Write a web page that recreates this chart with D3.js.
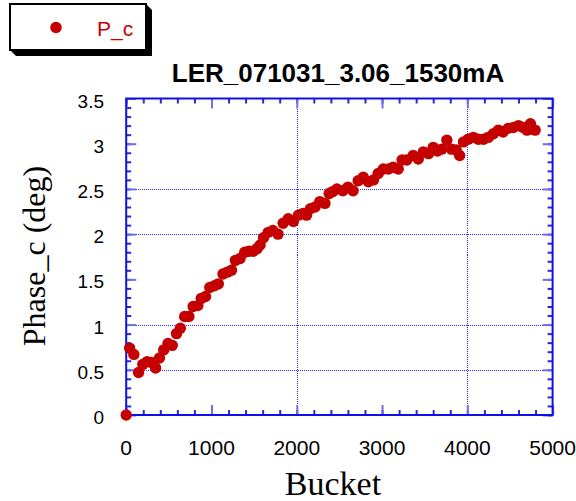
<!DOCTYPE html>
<html>
<head>
<meta charset="utf-8">
<script src="https://cdn.jsdelivr.net/npm/d3@7"></script>
<style>
  html, body { margin: 0; padding: 0; background: #fff; }
  svg { display: block; }
</style>
</head>
<body>
<svg id="chart" width="576" height="501"></svg>
<script>
// Phase_c measurement along the bunch train
const buckets = [0, 40, 90, 145, 195, 245, 295, 345, 390, 440, 490, 540, 590, 635, 685, 735, 785, 840, 880, 930,
  980, 1035, 1080, 1135, 1185, 1235, 1280, 1335, 1390, 1440, 1490, 1535, 1570, 1610, 1665, 1720, 1780, 1840, 1900, 1960,
  2020, 2075, 2115, 2160, 2215, 2270, 2330, 2380, 2420, 2470, 2540, 2600, 2660, 2720, 2780, 2840, 2900, 2955, 3015, 3075,
  3130, 3190, 3235, 3290, 3365, 3425, 3485, 3545, 3600, 3650, 3700, 3760, 3815, 3870, 3910, 3955, 4010, 4070, 4130, 4190,
  4245, 4305, 4365, 4420, 4480, 4540, 4600, 4655, 4700, 4740, 4795];
const phaseC = [0, 0.74, 0.67, 0.47, 0.56, 0.59, 0.58, 0.52, 0.63, 0.72, 0.79, 0.77, 0.90, 0.96, 1.09, 1.09, 1.20, 1.21, 1.29, 1.31,
  1.41, 1.43, 1.45, 1.56, 1.58, 1.60, 1.71, 1.73, 1.80, 1.81, 1.81, 1.84, 1.88, 1.96, 2.02, 2.04, 2.00, 2.12, 2.17, 2.14,
  2.21, 2.23, 2.21, 2.28, 2.30, 2.36, 2.34, 2.45, 2.47, 2.50, 2.48, 2.52, 2.48, 2.59, 2.63, 2.58, 2.60, 2.67, 2.72, 2.72,
  2.74, 2.72, 2.82, 2.82, 2.87, 2.83, 2.91, 2.89, 2.96, 2.92, 2.94, 3.04, 2.94, 2.93, 2.87, 3.02, 3.05, 3.07, 3.05, 3.05,
  3.07, 3.11, 3.15, 3.13, 3.17, 3.18, 3.20, 3.18, 3.15, 3.22, 3.15];

const xTickValues = [0, 1000, 2000, 3000, 4000, 5000];
const xTickLabels = ["0", "1000", "2000", "3000", "4000", "5000"];
const yTickValues = [0, 0.5, 1, 1.5, 2, 2.5, 3, 3.5];
const yTickLabels = ["0", "0.5", "1", "1.5", "2", "2.5", "3", "3.5"];
const xMinorValues = d3.range(0, 5001, 200);
const yMinorValues = d3.range(0, 36, 1).map(d => d / 10);
const xGridValues = [2000, 4000];
const yGridValues = [0.5, 1, 2, 2.5];

const seriesName = "P_c";
const chartTitle = "LER_071031_3.06_1530mA";
const xTitle = "Bucket";
const yTitle = "Phase_c (deg)";

const svg = d3.select("#chart");
const plotLeft = 126.2, plotRight = 552.6, plotTop = 98.5, plotBottom = 415;

const x = d3.scaleLinear().domain([0, 5000]).range([plotLeft, plotRight]);
const y = d3.scaleLinear().domain([0, 3.5]).range([plotBottom, plotTop]);
const snap = v => Math.round(v) + 0.5;

const red = "#c40000";
const frameBlue = "#1010e6";
const majorTickBlue = "#7070ec";
const minorTickBlue = "#2828d8";
const gridBlue = "#2a2af2";

// grid lines (dotted)
const grid = svg.append("g").attr("shape-rendering", "crispEdges");
grid.selectAll("line.gx").data(xGridValues).join("line")
  .attr("x1", d => snap(x(d))).attr("x2", d => snap(x(d)))
  .attr("y1", plotTop).attr("y2", plotBottom)
  .attr("stroke", gridBlue).attr("stroke-width", 1).attr("stroke-dasharray", "1,1");
grid.selectAll("line.gy").data(yGridValues).join("line")
  .attr("y1", d => snap(y(d))).attr("y2", d => snap(y(d)))
  .attr("x1", plotLeft).attr("x2", plotRight)
  .attr("stroke", gridBlue).attr("stroke-width", 1).attr("stroke-dasharray", "1,1");

// inward ticks on all four sides
function tickAxis(axisFn, scale, values, size, color, tx, ty) {
  const g = svg.append("g").attr("transform", `translate(${tx},${ty})`)
    .call(axisFn(scale).tickValues(values).tickSize(-size).tickFormat(""));
  g.select(".domain").remove();
  g.selectAll(".tick line").attr("stroke", color).attr("stroke-width", 2);
  return g;
}
tickAxis(d3.axisBottom, x, xMinorValues, 5, minorTickBlue, 0, plotBottom);
tickAxis(d3.axisTop, x, xMinorValues, 5, minorTickBlue, 0, plotTop);
tickAxis(d3.axisLeft, y, yMinorValues, 5, minorTickBlue, plotLeft, 0);
tickAxis(d3.axisRight, y, yMinorValues, 5, minorTickBlue, plotRight, 0);
tickAxis(d3.axisBottom, x, xTickValues, 10, majorTickBlue, 0, plotBottom);
tickAxis(d3.axisTop, x, xTickValues, 10, majorTickBlue, 0, plotTop);
tickAxis(d3.axisLeft, y, yTickValues, 10, majorTickBlue, plotLeft, 0);
tickAxis(d3.axisRight, y, yTickValues, 10, majorTickBlue, plotRight, 0);

// frame
svg.append("rect")
  .attr("x", plotLeft).attr("y", plotTop)
  .attr("width", plotRight - plotLeft).attr("height", plotBottom - plotTop)
  .attr("fill", "none").attr("stroke", frameBlue).attr("stroke-width", 2);

// tick labels
svg.append("g").selectAll("text").data(xTickValues).join("text")
  .attr("x", d => x(d)).attr("y", 455)
  .attr("text-anchor", "middle")
  .attr("font-family", "Liberation Sans, Arial, sans-serif")
  .attr("font-size", 21)
  .attr("fill", "#000")
  .text((d, i) => xTickLabels[i]);
svg.append("g").selectAll("text").data(yTickValues).join("text")
  .attr("x", 104).attr("y", d => y(d) + 9)
  .attr("text-anchor", "end")
  .attr("font-family", "Liberation Sans, Arial, sans-serif")
  .attr("font-size", 19)
  .attr("fill", "#000")
  .text((d, i) => yTickLabels[i]);

// axis titles
svg.append("text")
  .attr("x", 333).attr("y", 495)
  .attr("text-anchor", "middle")
  .attr("font-family", "Liberation Serif, Times New Roman, serif")
  .attr("font-size", 34)
  .text(xTitle);
svg.append("text")
  .attr("transform", "translate(45,256) rotate(-90)")
  .attr("text-anchor", "middle")
  .attr("font-family", "Liberation Serif, Times New Roman, serif")
  .attr("font-size", 32)
  .text(yTitle);

// chart title
svg.append("text")
  .attr("x", 338).attr("y", 82)
  .attr("text-anchor", "middle")
  .attr("font-family", "Liberation Sans, Arial, sans-serif")
  .attr("font-weight", "bold")
  .attr("font-size", 26)
  .text(chartTitle);

// data points
svg.append("g").selectAll("circle").data(buckets).join("circle")
  .attr("cx", d => x(d))
  .attr("cy", (d, i) => y(phaseC[i]))
  .attr("r", 5.7)
  .attr("fill", red);

// legend box with bevelled drop shadow
const lg = svg.append("g");
lg.append("polygon")
  .attr("points", "146,4 152,10 152,56 16,56 10,50")
  .attr("fill", "#000");
lg.append("rect").attr("x", 10).attr("y", 4).attr("width", 136).attr("height", 46)
  .attr("fill", "#fff").attr("stroke", "#000").attr("stroke-width", 2);
lg.append("circle").attr("cx", 56).attr("cy", 27.5).attr("r", 5.8).attr("fill", red);
lg.append("text").attr("x", 97).attr("y", 36)
  .attr("font-family", "Liberation Sans, Arial, sans-serif")
  .attr("font-size", 21)
  .attr("fill", red)
  .text(seriesName);
</script>
</body>
</html>
